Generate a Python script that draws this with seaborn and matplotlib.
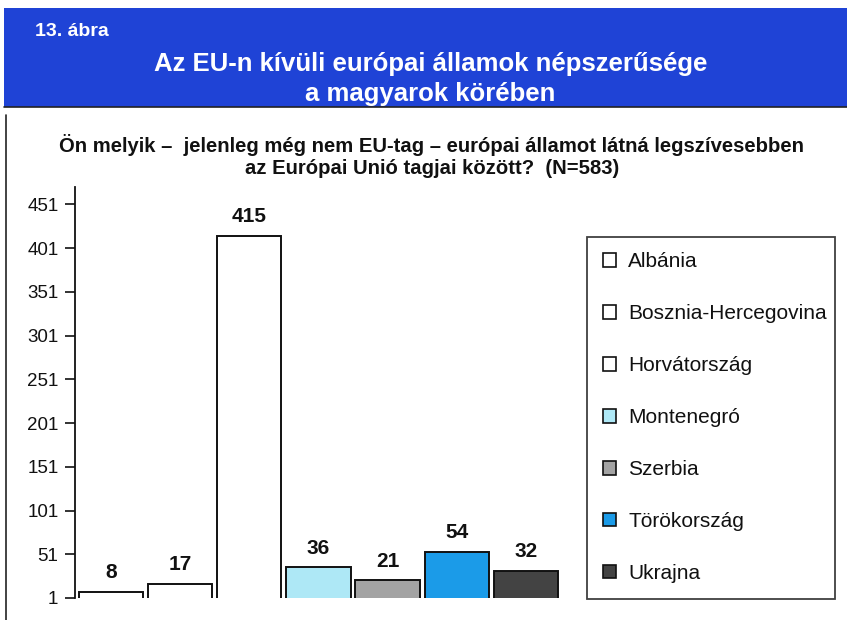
import matplotlib
matplotlib.use("Agg")
import matplotlib.pyplot as plt
import seaborn as sns
import pandas as pd

# data
countries = ["Albánia", "Bosznia-Hercegovina", "Horvátország", "Montenegró",
             "Szerbia", "Törökország", "Ukrajna"]
votes = [8, 17, 415, 36, 21, 54, 32]
bar_colors = ["#ffffff", "#ffffff", "#ffffff", "#aee8f6", "#a3a3a3", "#1b9be8", "#434343"]
y_ticks = [1, 51, 101, 151, 201, 251, 301, 351, 401, 451]

header_blue = "#1f43d6"
ink = "#111111"

sns.set_theme(style="white")
plt.rcParams["font.family"] = ["Liberation Sans", "DejaVu Sans"]
plt.rcParams["text.color"] = ink

df = pd.DataFrame({"country": countries, "votes": votes})

fig = plt.figure(figsize=(8.47, 6.2), dpi=100)

# blue header band
fig.patches.append(plt.Rectangle((0.005, 0.827), 0.995, 0.160, transform=fig.transFigure,
                                 facecolor=header_blue, edgecolor="none", zorder=0))
fig.lines.append(plt.Line2D([0.005, 1], [0.827, 0.827], transform=fig.transFigure,
                            color="#222222", lw=1.2))
# left frame line
fig.lines.append(plt.Line2D([0.007, 0.007], [0.0, 0.815], transform=fig.transFigure,
                            color="#222222", lw=1.2))

fig.text(0.041, 0.949, "13. ábra", color="white", fontsize=14, fontweight="bold",
         va="center", ha="left")
fig.text(0.508, 0.897, "Az EU-n kívüli európai államok népszerűsége", color="white",
         fontsize=18.5, fontweight="bold", ha="center", va="center")
fig.text(0.508, 0.848, "a magyarok körében", color="white",
         fontsize=18.5, fontweight="bold", ha="center", va="center")

fig.text(0.51, 0.766, "Ön melyik –  jelenleg még nem EU-tag – európai államot látná legszívesebben",
         fontsize=14.6, fontweight="bold", ha="center", va="center")
fig.text(0.51, 0.729, "az Európai Unió tagjai között?  (N=583)",
         fontsize=14.6, fontweight="bold", ha="center", va="center")

ax = fig.add_axes([0.0886, 0.0355, 0.573, 0.663])
sns.barplot(data=df, x="country", y="votes", hue="country", palette=bar_colors,
            saturation=1, width=0.93, edgecolor=ink, linewidth=1.4, legend=True, ax=ax)

for cont in ax.containers:
    ax.bar_label(cont, padding=7, fontsize=15, fontweight="bold", color=ink)

ax.set_ylim(1, 471)
ax.set_xlim(-0.52, 6.5)
ax.set_yticks(y_ticks)
ax.set_xticks([])
ax.set_xlabel("")
ax.set_ylabel("")
ax.tick_params(axis="y", left=True, direction="out", length=7, width=1.2,
               labelsize=13.5, pad=5, colors=ink)
for side in ["top", "right", "bottom"]:
    ax.spines[side].set_visible(False)
ax.spines["left"].set_color(ink)
ax.spines["left"].set_linewidth(1.3)

handles, labels = ax.get_legend_handles_labels()
leg = ax.legend(handles, labels, loc="upper left",
                bbox_to_anchor=(0.693, 0.618, 0.293, 0.0), bbox_transform=fig.transFigure,
                mode="expand", frameon=True, fancybox=False, fontsize=15,
                handlelength=0.62, handleheight=0.62, handletextpad=0.6,
                labelspacing=1.58, borderpad=0.75, borderaxespad=0)
leg.get_frame().set_edgecolor(ink)
leg.get_frame().set_linewidth(1.3)
for h in leg.legend_handles:
    h.set_edgecolor(ink)
    h.set_linewidth(1.2)

fig.savefig("out.png", dpi=100)
